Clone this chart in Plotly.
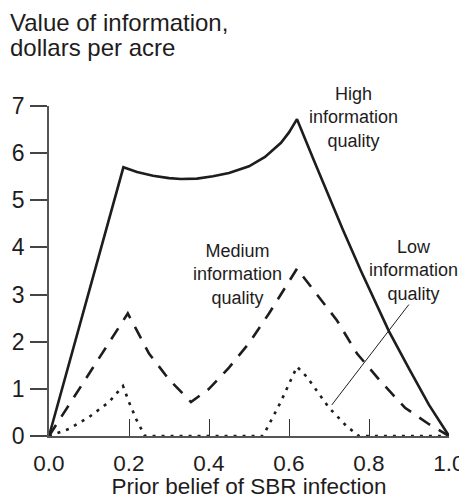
import plotly.graph_objects as go

# ---- data ----
high_x = [0, 0.186, 0.22, 0.26, 0.30, 0.33, 0.37, 0.41, 0.45, 0.50, 0.54, 0.58, 0.60, 0.62,
          0.66, 0.70, 0.735, 0.78, 0.85, 0.90, 0.95, 1.0]
high_y = [0, 5.7, 5.6, 5.52, 5.47, 5.45, 5.46, 5.51, 5.58, 5.72, 5.92, 6.22, 6.44, 6.72,
          5.89, 5.07, 4.37, 3.5, 2.22, 1.43, 0.66, 0]

med_x = [0, 0.197, 0.25, 0.30, 0.355, 0.40, 0.45, 0.50, 0.55, 0.60, 0.62,
         0.67, 0.72, 0.77, 0.83, 0.89, 0.95, 1.0]
med_y = [0, 2.6, 1.75, 1.2, 0.72, 1.0, 1.45, 1.97, 2.6, 3.3, 3.55,
         3.0, 2.45, 1.75, 1.15, 0.6, 0.25, 0]

low_x = [0, 0.05, 0.10, 0.15, 0.185, 0.20, 0.22, 0.24, 0.535, 0.578, 0.62,
         0.644, 0.70, 0.745, 0.775, 1.0]
low_y = [0, 0.15, 0.4, 0.72, 1.06, 0.72, 0.32, 0, 0, 0.7, 1.47,
         1.26, 0.6, 0.2, 0, 0]

x_tickvals = [0, 0.2, 0.4, 0.6, 0.8, 1.0]
x_ticktext = ["0.0", "0.2", "0.4", "0.6", "0.8", "1.0"]
x_inner_ticks = [0.2, 0.4, 0.6, 0.8]
y_tickvals = [0, 1, 2, 3, 4, 5, 6, 7]

series_labels = {
    "high": "High<br>information<br>quality",
    "medium": "Medium<br>information<br>quality",
    "low": "Low<br>information<br>quality",
}
title_lines = ["Value of information,", "dollars per acre"]
x_title = "Prior belief of SBR infection"

# ---- styles ----
INK = "#1e1c1d"
AXIS = "#555555"
FONT = "Liberation Sans, Arial, sans-serif"

fig = go.Figure()
fig.add_trace(go.Scatter(x=high_x, y=high_y, mode="lines",
                         line=dict(color=INK, width=2.6), showlegend=False))
fig.add_trace(go.Scatter(x=med_x, y=med_y, mode="lines",
                         line=dict(color=INK, width=2.6, dash="13px,10px"), showlegend=False))
fig.add_trace(go.Scatter(x=low_x, y=low_y, mode="lines",
                         line=dict(color=INK, width=2.6, dash="3px,6px"), showlegend=False))
# invisible trace to anchor the overlay axis that carries the inner x ticks
fig.add_trace(go.Scatter(x=[0, 1], y=[0, 0], mode="lines", xaxis="x2",
                         line=dict(width=0), hoverinfo="skip", showlegend=False))

# the page body adds an 8px margin, so the figure is 8px smaller than the window
fig.update_layout(
    width=459, height=491,
    margin=dict(l=41, r=18, t=98, b=63),
    paper_bgcolor="white", plot_bgcolor="white",
    font=dict(family=FONT, color=INK, size=22),
    xaxis=dict(range=[0, 1], tickvals=x_tickvals, ticktext=x_ticktext,
               ticks="", showgrid=False, zeroline=False, automargin=False,
               showline=True, linecolor=AXIS, linewidth=1.5,
               tickfont=dict(size=22.5), ticklabelstandoff=6,
               title=dict(text=x_title, font=dict(size=22.5), standoff=8)),
    xaxis2=dict(range=[0, 1], overlaying="x", anchor="y", side="bottom",
                tickvals=x_inner_ticks, ticks="inside", ticklen=17,
                tickwidth=1.2, tickcolor="#333333", automargin=False,
                showticklabels=False, showgrid=False, zeroline=False, showline=False),
    yaxis=dict(range=[0, 7], tickvals=y_tickvals, ticks="outside", ticklen=17,
               tickwidth=1.5, tickcolor="#444444", showgrid=False, zeroline=False,
               showline=True, linecolor=AXIS, linewidth=1.5, automargin=False,
               tickfont=dict(size=23), ticklabelstandoff=1),
)

# chart title (two lines, tight spacing like the reference)
title_font = dict(size=24, color=INK, family=FONT)
for i, line in enumerate(title_lines):
    fig.add_annotation(xref="paper", yref="paper", x=-41/400, y=1 + (84 - 25 * i)/330,
                       xanchor="left", yanchor="middle", text=line,
                       showarrow=False, font=title_font)

ann_font = dict(size=18, color=INK, family=FONT)
fig.add_annotation(x=0.76, y=6.75, text=series_labels["high"], showarrow=False,
                   font=ann_font, align="center")
fig.add_annotation(x=0.47, y=3.42, text=series_labels["medium"], showarrow=False,
                   font=ann_font, align="center")
fig.add_annotation(x=0.91, y=3.52, text=series_labels["low"], showarrow=False,
                   font=ann_font, align="center")
# leader line for the low series
fig.add_annotation(x=0.707, y=0.66, ax=0.9025, ay=2.82, axref="x", ayref="y",
                   text="", showarrow=True, arrowhead=0, arrowwidth=1,
                   arrowcolor=INK, standoff=0, startstandoff=0)

fig.write_html("out.html")
